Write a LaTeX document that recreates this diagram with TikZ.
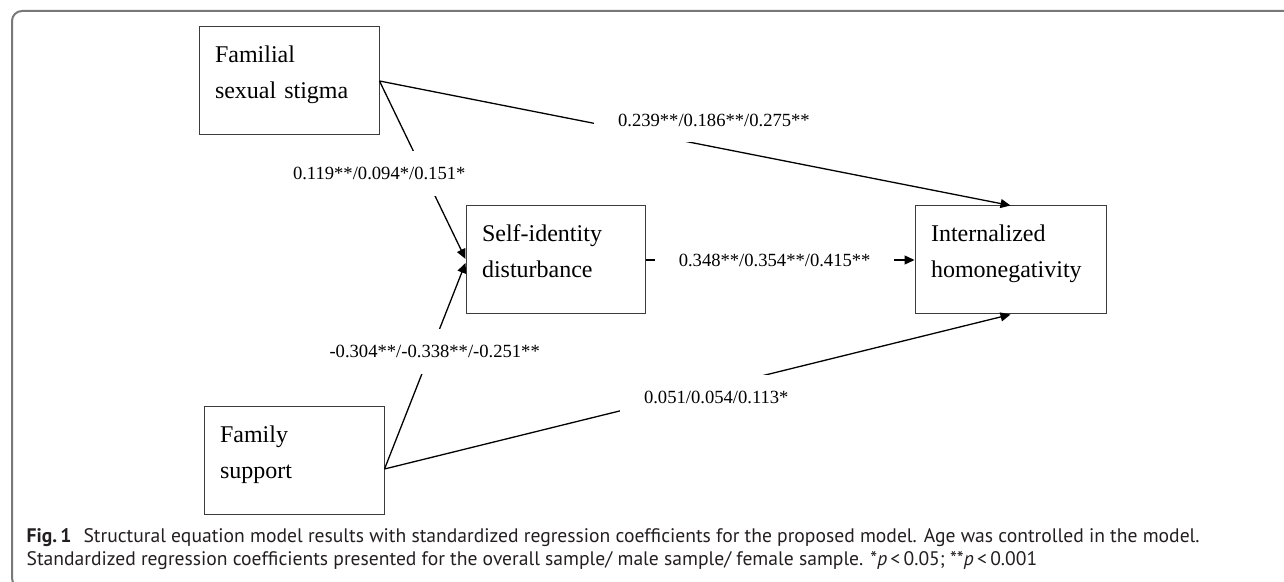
\documentclass[tikz,border=0pt]{standalone}
\usepackage{fontspec}
\setmainfont{Liberation Serif}
\newfontfamily\capfont{PT Sans}
\usetikzlibrary{arrows.meta,positioning}
\definecolor{framegray}{RGB}{120,120,120}
\definecolor{boxgray}{RGB}{60,60,60}
\definecolor{captext}{RGB}{35,31,32}

\begin{document}
\begin{tikzpicture}[->,>={Triangle[length=5pt,width=4.5pt]},x=0.5pt,y=-0.5pt,node distance=227.5pt,line width=0.65pt,
  var/.style={draw=boxgray,line width=0.5pt,rectangle,minimum height=54pt,inner xsep=8pt,inner ysep=9pt,text height=9pt,text depth=27pt,align=left,font=\fontsize{12}{18}\selectfont},
  coef/.style={fill=white,inner xsep=12pt,inner ysep=8pt,font=\fontsize{9.3}{11}\selectfont}]
        \useasboundingbox (0,0) rectangle (1284,582);
        \draw[-,framegray,line width=1pt,rounded corners=5pt] (12,11) rectangle (1300,588);
        \node[var,text width=74pt](F) at (289,81){Familial\\sexual stigma};
        \node[var,text width=73.5pt](S) at (555.5,260){Self-identity\\disturbance};
        \node[var,text width=79.5pt](I)[right of = S]{Internalized\\homonegativity};
        \node[var,text width=74pt](FS) at (294,460){Family\\support};
        \path (F.east) edge node[coef,pos=0.53,yshift=13.5pt]{0.239**/0.186**/0.275**} (I.north)
        (F.east) edge node[coef,pos=0.52,xshift=-22.5pt]{0.119**/0.094*/0.151*} ([yshift=0.5pt]S.west)
        (S) edge node[coef,pos=0.48]{0.348**/0.354**/0.415**} (I)
        ([yshift=-4.5pt]FS.east) edge node[coef,pos=0.57,xshift=2pt]{-0.304**/-0.338**/-0.251**} ([yshift=-1.5pt]S.west)
        ([yshift=-4.5pt]FS.east) edge node[coef,pos=0.53,yshift=-5pt]{0.051/0.054/0.113*} (I.south)
        ;
        \node[anchor=north west,inner sep=0pt,align=left,text=captext,font=\capfont\fontsize{9.8}{11.5}\selectfont](cap) at (26,528){\textbf{Fig.\,1}\hspace{6pt}Structural equation model results with standardized regression coefficients for the proposed model. Age was controlled in the model.\\Standardized regression coefficients presented for the overall sample/ male sample/ female sample. *\textit{p}\,<\,0.05; **\textit{p}\,<\,0.001};
    \end{tikzpicture}
\end{document}
